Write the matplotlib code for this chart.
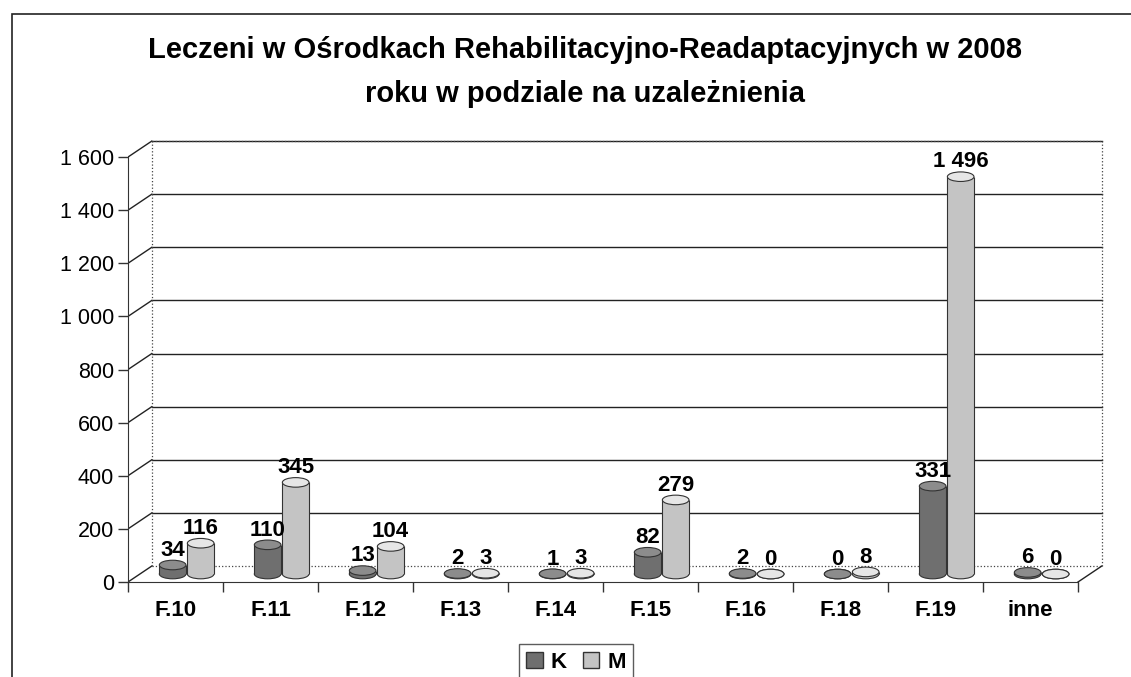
import numpy as np
import matplotlib
matplotlib.use("Agg")
import matplotlib.pyplot as plt
from matplotlib.patches import Ellipse, Patch, Rectangle

plt.rcParams['font.family'] = ['Liberation Sans', 'DejaVu Sans']

# data
categories = ['F.10', 'F.11', 'F.12', 'F.13', 'F.14', 'F.15', 'F.16', 'F.18', 'F.19', 'inne']
k_values = [34, 110, 13, 2, 1, 82, 2, 0, 331, 6]
m_values = [116, 345, 104, 3, 3, 279, 0, 8, 1496, 0]
y_ticks = [0, 200, 400, 600, 800, 1000, 1200, 1400, 1600]
y_tick_labels = ['0', '200', '400', '600', '800', '1 000', '1 200', '1 400', '1 600']
title = 'Leczeni w Ośrodkach Rehabilitacyjno-Readaptacyjnych w 2008\nroku w podziale na uzależnienia'

# pseudo 3D settings (depth offset of the back wall, in data units)
DX, DY = 0.25, 60.0
K_COL, K_TOP = '#6f6f6f', '#8c8c8c'
M_COL, M_TOP = '#c4c4c4', '#e6e6e6'
BAR_W = 0.28
ELL_H = 36.0

W, H = 1131, 677
fig = plt.figure(figsize=(W / 100, H / 100), dpi=100)
fig.patches.append(Rectangle((12 / W, -0.05), 1.2, 1 - 14 / H + 0.05, transform=fig.transFigure,
                             fill=False, edgecolor='#222222', linewidth=1.2))

left_px, bottom_px = 128, 582
xmax, ymax = 10.35, 1700
ax = fig.add_axes([left_px / W, (H - bottom_px) / H, 95 * xmax / W, 0.2656 * ymax / H])
ax.set_xlim(0, xmax)
ax.set_ylim(0, ymax)
ax.patch.set_alpha(0)

for s in ['top', 'right']:
    ax.spines[s].set_visible(False)
ax.spines['left'].set_bounds(0, 1600)
ax.spines['bottom'].set_bounds(0, 10)
ax.spines['left'].set_color('#333333')
ax.spines['bottom'].set_color('#333333')

ax.set_yticks(y_ticks)
ax.set_yticklabels(y_tick_labels, fontsize=15.5)
ax.tick_params(axis='y', length=7, width=1, color='#333333', pad=3)

ax.set_xticks(np.arange(0, 11))
ax.set_xticklabels([])
ax.set_xticks(np.arange(10) + 0.5, minor=True)
ax.set_xticklabels(categories, minor=True, fontsize=16, fontweight='bold')
ax.tick_params(axis='x', which='major', length=7, width=1, color='#333333')
ax.tick_params(axis='x', which='minor', length=0, pad=13)

# back wall, side wall, floor
for v in y_ticks[1:]:
    ax.plot([DX, 10 + DX], [v + DY, v + DY], color='#222222', lw=1.0, zorder=1)
for v in y_ticks:
    ax.plot([0, DX], [v, v + DY], color='#222222', lw=1.0, zorder=1)
ax.plot([DX, DX], [DY, 1600 + DY], color='#444444', lw=0.9, ls=':', zorder=1)
ax.plot([10 + DX, 10 + DX], [DY, 1600 + DY], color='#444444', lw=0.9, ls=':', zorder=1)
ax.plot([DX, 10 + DX], [1600 + DY, 1600 + DY], color='#444444', lw=0.9, ls=':', zorder=1)
ax.plot([DX, 10 + DX], [DY, DY], color='#444444', lw=0.9, ls=':', zorder=1)
ax.plot([10, 10 + DX], [0, DY], color='#222222', lw=1.0, zorder=1)

# cylinders
x = np.arange(len(categories))
base = DY / 2
for vals, off, col, top in [(k_values, 0.47, K_COL, K_TOP), (m_values, 0.765, M_COL, M_TOP)]:
    xc = x + off
    ax.bar(xc, vals, width=BAR_W, bottom=base, color=col, edgecolor='none', zorder=3)
    for xi, v in zip(xc, vals):
        ax.add_patch(Ellipse((xi, base), BAR_W, ELL_H, facecolor=col, edgecolor='#333333',
                             lw=0.8, zorder=2.9))
        ax.add_patch(Ellipse((xi, base + v), BAR_W, ELL_H, facecolor=top, edgecolor='#333333',
                             lw=0.8, zorder=3.2))
        ax.text(xi, base + v + ELL_H / 2 - 2, f'{v:,}'.replace(',', ' '), ha='center', va='bottom',
                fontsize=16, fontweight='bold', zorder=4)
    ax.vlines(xc - BAR_W / 2, base, base + np.array(vals), color='#333333', lw=0.8, zorder=3.1)
    ax.vlines(xc + BAR_W / 2, base, base + np.array(vals), color='#333333', lw=0.8, zorder=3.1)

fig.text(585 / W, 1 - 72 / H, title, ha='center', va='center', fontsize=21, fontweight='bold',
         linespacing=1.7)

handles = [Patch(facecolor=K_COL, edgecolor='#333333', label='K'),
           Patch(facecolor=M_COL, edgecolor='#333333', label='M')]
leg = fig.legend(handles=handles, loc='upper center', bbox_to_anchor=(576 / W, 1 - 644 / H), ncol=2,
                 frameon=True, fancybox=False, edgecolor='#333333', prop={'weight': 'bold', 'size': 16},
                 handlelength=0.75, handleheight=0.75, handletextpad=0.35, columnspacing=0.7,
                 borderpad=0.35, borderaxespad=0)
leg.get_frame().set_linewidth(1.0)

fig.savefig('out.png', dpi=100)
